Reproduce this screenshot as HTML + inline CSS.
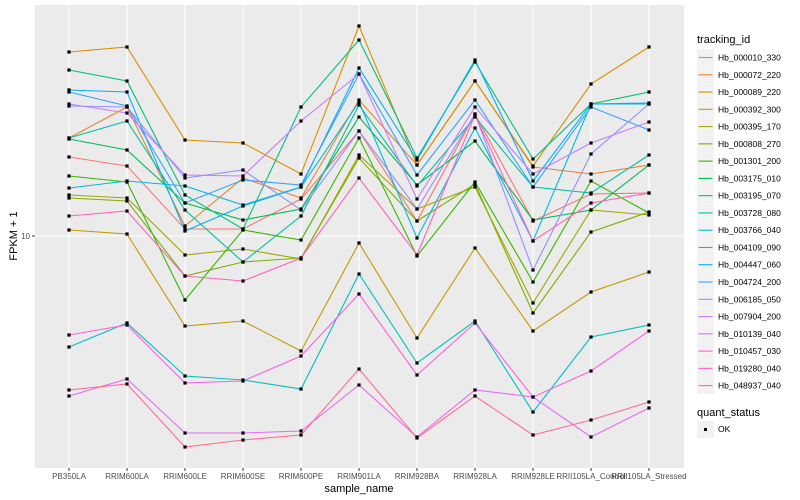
<!DOCTYPE html>
<html><head><meta charset="utf-8"><style>
body{margin:0;background:#fff;}
svg{display:block;font-family:"Liberation Sans",sans-serif;}
</style></head><body>
<svg id="s" width="800" height="500" xmlns="http://www.w3.org/2000/svg">
<rect x="35" y="5" width="649" height="463" fill="#EBEBEB"/>
<line x1="35" x2="684" y1="236" y2="236" stroke="#fff" stroke-width="1.1"/>
<g id="vg"></g>
<g id="lines"></g>
<g id="pts"></g>
<line x1="32" x2="35" y1="236" y2="236" stroke="#333"/>
<text x="30" y="239" font-size="8" fill="#4d4d4d" text-anchor="end">10</text>
<text transform="translate(17,236) rotate(-90)" font-size="11" fill="#000" text-anchor="middle">FPKM + 1</text>
<text x="359" y="492" font-size="11" fill="#000" text-anchor="middle">sample_name</text>
<g id="xl" font-size="8" fill="#4d4d4d" text-anchor="middle"></g>
<text x="697" y="43" font-size="11" fill="#000">tracking_id</text>
<g id="leg" font-size="8.5" fill="#000"></g>
<text x="697" y="416" font-size="11" fill="#000">quant_status</text>
<rect x="697" y="421" width="17" height="17" fill="#F2F2F2"/>
<rect x="704" y="428" width="3" height="3" fill="#000"/>
<text x="718" y="432" font-size="8.5" fill="#000">OK</text>
</svg>
<script>
var X=[69,127,185,243,301,359,417,475,533,591,649];
var names=["PB350LA","RRIM600LA","RRIM600LE","RRIM600SE","RRIM600PE","RRIM901LA","RRIM928BA","RRIM928LA","RRIM928LE","RRII105LA_Control","RRII105LA_Stressed"];
var ids=["Hb_000010_330","Hb_000072_220","Hb_000089_220","Hb_000392_300","Hb_000395_170","Hb_000808_270","Hb_001301_200","Hb_003175_010","Hb_003195_070","Hb_003728_080","Hb_003766_040","Hb_004109_090","Hb_004447_060","Hb_004724_200","Hb_006185_050","Hb_007904_200","Hb_010139_040","Hb_010457_030","Hb_019280_040","Hb_048937_040"];
var cols=["#F8766D","#EA8331","#D89000","#C09B00","#A3A500","#7CAE00","#39B600","#00BB4E","#00BF7D","#00C1A3","#00BFC4","#00BAE0","#00B0F6","#35A2FF","#9590FF","#C77CFF","#E76BF3","#FA62DB","#FF62BC","#FF6C91"];
var D=[
[157,166,229,229,199,131,221,114,221,194,193],
[138,107,226,178,198,100,165,81,167,174,165],
[52,47,140,143,174,26,165,81,166,84,47],
[230,234,326,321,351,243,338,248,331,292,272],
[195,198,255,249,259,155,209,187,303,210,215],
[198,201,276,262,258,158,221,184,313,232,212],
[176,182,300,230,240,138,256,182,282,181,213],
[139,150,203,220,209,117,185,141,220,210,165],
[70,81,195,229,107,40,158,62,159,104,92],
[138,121,210,262,216,105,186,117,187,193,155],
[347,323,376,380,389,274,363,321,412,337,325],
[188,181,186,205,187,102,238,128,241,104,104],
[90,92,231,206,187,68,160,60,181,104,103],
[92,106,203,180,185,74,175,100,187,107,130],
[106,107,178,170,210,131,209,114,270,154,104],
[104,113,175,176,121,74,199,107,174,143,122],
[396,379,433,433,431,385,437,390,397,437,408],
[335,325,383,381,356,294,375,323,397,371,331],
[216,211,276,281,258,178,255,115,241,203,193],
[390,384,447,440,435,369,438,396,435,420,402]];
var ns="http://www.w3.org/2000/svg";
function el(p,t,a,txt){var e=document.createElementNS(ns,t);for(var k in a)e.setAttribute(k,a[k]);if(txt)e.textContent=txt;document.getElementById(p).appendChild(e);return e;}
X.forEach(function(x,i){el("vg","line",{x1:x,x2:x,y1:5,y2:468,stroke:"#fff","stroke-width":1.1});
el("vg","line",{x1:x,x2:x,y1:468,y2:471,stroke:"#333"});
el("xl","text",{x:x,y:479},names[i]);});
D.forEach(function(d,j){var p=d.map(function(y,i){return X[i]+","+y}).join(" ");
el("lines","polyline",{points:p,fill:"none",stroke:cols[j],"stroke-width":1.1});
d.forEach(function(y,i){el("pts","rect",{x:X[i]-1.6,y:y-1.6,width:3.2,height:3.2,fill:"#000"});});
var ly=49+j*17.27;
el("leg","rect",{x:697,y:ly,width:17,height:17,fill:"#F2F2F2"});
el("leg","line",{x1:698.5,x2:712.5,y1:ly+8.5,y2:ly+8.5,stroke:cols[j],"stroke-width":1.1});
el("leg","text",{x:718,y:ly+11.5},ids[j]);});
</script>
</body></html>
